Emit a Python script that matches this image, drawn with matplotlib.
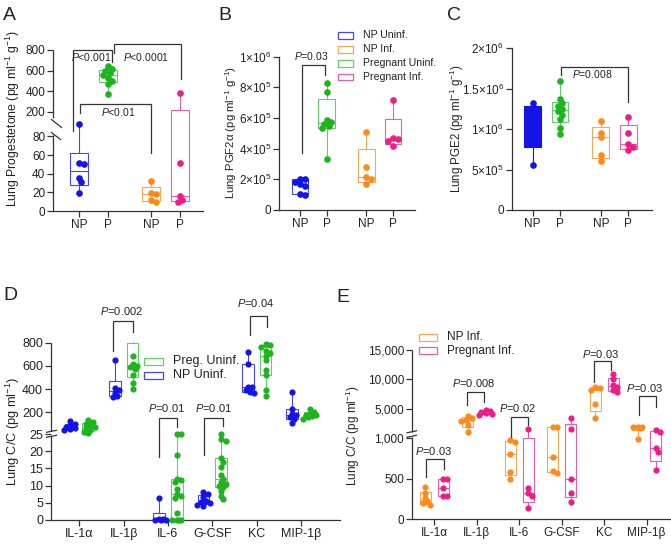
import numpy as np
import matplotlib
matplotlib.use("Agg")
import matplotlib.pyplot as plt
from matplotlib.lines import Line2D
from matplotlib.patches import Rectangle
from matplotlib.transforms import Bbox, TransformedBbox

# ------------------------------------------------------------------ data
groups_abc = ["NP", "P", "NP", "P"]
legend_abc = ["NP Uninf.", "NP Inf.", "Pregnant Uninf.", "Pregnant Inf."]

# Panel A: lung progesterone (pg ml-1 g-1)
a_np_uninf = [93, 51.4, 50.7, 35.7, 31.4, 19]
a_p_uninf = [640, 620, 600, 580, 560, 530, 500, 470, 370]
a_np_inf = [32.5, 19, 18, 11.8, 10]
a_p_inf = [385, 51.8, 16, 11.8, 9.3]
a_yticks = [0, 20, 40, 60, 80, 200, 400, 600, 800]

# Panel B: lung PGF2a
b_np_uninf = [2.05e5, 2.0e5, 1.85e5, 1.7e5, 1.55e5, 1.05e5, 0.95e5]
b_p_uninf = [8.3e5, 7.7e5, 5.85e5, 5.75e5, 5.6e5, 5.45e5, 5.35e5, 3.3e5]
b_np_inf = [5.1e5, 2.82e5, 2.17e5, 2.0e5, 1.7e5]
b_p_inf = [7.2e5, 4.7e5, 4.6e5, 4.5e5, 4.15e5]
b_yticks = [0, 2e5, 4e5, 6e5, 8e5, 1e6]
b_ylabels = ["0", "2×10$^{5}$", "4×10$^{5}$", "6×10$^{5}$", "8×10$^{5}$", "1×10$^{6}$"]

# Panel C: lung PGE2
c_np_uninf = [1.325e6, 1.27e6, 1.25e6, 1.05e6, 0.85e6, 0.56e6]
c_p_uninf = [1.6e6, 1.37e6, 1.32e6, 1.29e6, 1.25e6, 1.22e6, 1.18e6, 1.12e6, 1.01e6, 0.94e6]
c_np_inf = [1.1e6, 0.955e6, 0.897e6, 0.68e6, 0.61e6]
c_p_inf = [1.145e6, 0.955e6, 0.815e6, 0.78e6, 0.74e6]
c_yticks = [0, 5e5, 1e6, 1.5e6, 2e6]
c_ylabels = ["0", "5×10$^{5}$", "1×10$^{6}$", "1.5×10$^{6}$", "2×10$^{6}$"]

# Panels D / E: cytokines
cytokines = ["IL-1α", "IL-1β", "IL-6", "G-CSF", "KC", "MIP-1β"]
d_np_uninf = [
    [130, 110, 95, 85, 75, 65, 55],
    [650, 410, 395, 370, 340, 330],
    [6.5, 0.4, 0.2, 0.1, 0, 0],
    [8, 7.5, 6.6, 5.5, 5.2, 4.8, 4.5, 4],
    [722, 620, 421, 416, 392, 378, 369],
    [372, 230, 190, 177, 160, 148, 115],
]
d_preg_uninf = [
    [140, 125, 110, 95, 85, 75, 60, 45, 30],
    [1400, 1130, 690, 620, 600, 590, 570, 525, 455, 400],
    [25.8, 25, 19, 12, 11.5, 11, 9, 7.5, 7, 6.5, 2, 0, 0, 0, 0],
    [26, 23.5, 23, 18, 17, 15.5, 13, 12, 11, 10.5, 10, 9.5, 8.5, 7, 6],
    [790, 780, 765, 730, 710, 690, 650, 565, 520, 395, 340],
    [230, 205, 190, 180, 175, 170, 160, 150],
]
d_yticks = [0, 5, 10, 15, 20, 25, 200, 400, 600, 800]
d_legend = ["Preg. Uninf.", "NP Uninf."]

e_np_inf = [
    [395, 320, 260, 220, 195, 180],
    [3800, 3500, 3200, 3000, 2300, 1150],
    [975, 950, 800, 585, 500],
    [2000, 1900, 760, 595, 570],
    [8700, 8500, 8300, 5850, 3500],
    [2000, 1950, 1900, 1850, 980],
]
e_preg_inf = [
    [500, 490, 380, 290, 285],
    [4800, 4600, 4450, 4300, 4150, 4000],
    [1610, 380, 320, 290, 135],
    [3400, 1560, 500, 320, 215],
    [11000, 10000, 9000, 8800, 8200, 7900],
    [1450, 1150, 870, 830, 610],
]
e_yticks = [0, 500, 1000, 5000, 10000, 15000]
e_ylabels = ["0", "500", "1,000", "5,000", "10,000", "15,000"]
e_legend = ["NP Inf.", "Pregnant Inf."]

# significance brackets: label, x-left, x-right, y-top, y-left-end, y-right-end, text-x, text-y
a_brackets = [
    ("$P$<0.001", -0.2, 1.13, 800, 86, 685, 0.44, 728),
    ("$P$<0.0001", 1.21, 3.55, 854, 770, 515, 2.34, 733),
    ("$P$<0.01", 0.03, 2.48, 275, 178, 61.8, 1.38, 190),
]
b_brackets = [("$P$=0.03", 0.06, 0.94, 9.45e5, 3.69e5, 8.8e5, 0.41, 1.007e6)]
c_brackets = [("$P$=0.008", 1.03, 3.48, 1.77e6, 1.667e6, 1.33e6, 2.17, 1.68e6)]
d_brackets = [
    ("$P$=0.002", 0.77, 1.22, 990, 728, 895, 0.96, 1075),
    ("$P$=0.01", 1.79, 2.2, 152, 18.4, 84, 1.97, 234),
    ("$P$=0.01", 2.81, 3.24, 152, 18.9, 92, 3.02, 234),
    ("$P$=0.04", 3.84, 4.24, 1033, 866, 938, 3.97, 1145),
]
e_brackets = [
    ("$P$=0.03", -0.2, 0.24, 739, 522, 613, -0.02, 841),
    ("$P$=0.008", 0.76, 1.17, 7931, 5676, 6236, 0.92, 9354),
    ("$P$=0.02", 1.8, 2.21, 3693, 1018, 2286, 1.96, 5219),
    ("$P$=0.03", 3.76, 4.17, 13117, 9625, 11608, 3.92, 14322),
    ("$P$=0.03", 4.82, 5.22, 7202, 3981, 5388, 4.96, 8515),
]

# ------------------------------------------------------------------ style
plt.rcParams.update({
    "font.family": ["Liberation Sans", "DejaVu Sans"],
    "mathtext.fontset": "custom",
    "mathtext.rm": "Liberation Sans",
    "mathtext.it": "Liberation Sans:italic",
    "mathtext.bf": "Liberation Sans:bold",
    "text.color": "#222222",
})
AXC = "#333333"
BLUE, BLUE_E = "#1414e8", "#4545ee"
ORANGE, ORANGE_E = "#ff8a1c", "#f8a650"
GREEN, GREEN_E = "#1fb41f", "#62cf62"
PINK, PINK_E = "#ec1c88", "#ee5ca8"

W, H = 671, 546
fig = plt.figure(figsize=(W / 100, H / 100), dpi=100)


def add_ax(x0, y0, x1, y1):
    return fig.add_axes([x0 / W, 1 - y1 / H, (x1 - x0) / W, (y1 - y0) / H])


def make_scale(bv, bp):
    bv = np.asarray(bv, float)
    bp = np.asarray(bp, float)

    def interp(x, xs, ys):
        x = np.asarray(x, float)
        y = np.interp(x, xs, ys)
        s0 = (ys[1] - ys[0]) / (xs[1] - xs[0])
        s1 = (ys[-1] - ys[-2]) / (xs[-1] - xs[-2])
        y = np.where(x < xs[0], ys[0] + (x - xs[0]) * s0, y)
        y = np.where(x > xs[-1], ys[-1] + (x - xs[-1]) * s1, y)
        return y

    return (lambda v: interp(v, bv, bp)), (lambda p: interp(p, bp, bv))


def fig_line(xs, ys, **kw):
    fig.add_artist(Line2D([x / W for x in xs], [1 - y / H for y in ys],
                          transform=fig.transFigure, color=AXC, lw=0.9, **kw))


def setup(rect, xlim, ylim, scale=None, fs=8.5, broken=False):
    ax = add_ax(*rect)
    ax.patch.set_alpha(0)
    if scale is not None:
        ax.set_yscale("function", functions=scale)
    ax.set_xlim(*xlim)
    ax.set_ylim(*ylim)
    for s in ("top", "right"):
        ax.spines[s].set_visible(False)
    for s in ("left", "bottom"):
        ax.spines[s].set_color(AXC)
        ax.spines[s].set_linewidth(0.9)
    if broken:
        ax.spines["left"].set_visible(False)
    ax.tick_params(axis="both", direction="out", length=4, width=0.9, color=AXC,
                   labelsize=fs, pad=1.5, labelcolor="#222222")
    ax.minorticks_off()
    return ax


def clipbox(ax, top):
    return TransformedBbox(Bbox([[-0.3, -0.3], [1.3, top]]), ax.transAxes)


def swarm(ax, xc, vals, diam, maxoff):
    vals = np.asarray(vals, float)
    T = ax.transData
    yp = T.transform(np.column_stack([np.full(vals.size, xc), vals]))[:, 1]
    ppu = T.transform([[xc + 1, 0]])[0, 0] - T.transform([[xc, 0]])[0, 0]
    offs = np.zeros(vals.size)
    placed = []
    step = diam * 0.35
    cands = [0.0]
    k = 1
    while k * step <= maxoff + 1e-9:
        cands += [k * step, -k * step]
        k += 1
    need = 0.62 * diam
    for i in np.argsort(-vals, kind="stable"):
        best, bestd = None, -1.0
        for c in cands:
            d = min([np.hypot(c - px, yp[i] - py) for px, py in placed] or [1e9])
            if d >= need:
                best = c
                break
            if d > bestd:
                best, bestd = c, d
        placed.append((best, yp[i]))
        offs[i] = best
    return xc + offs / ppu


def group(ax, x, vals, col, edge, width, s, fill=None):
    q1, med, q3 = np.percentile(vals, [25, 50, 75], method="weibull")
    st = [dict(med=med, q1=q1, q3=q3, whislo=min(vals), whishi=max(vals), fliers=[])]
    art = ax.bxp(st, positions=[x], widths=width, showcaps=False, showfliers=False,
                 patch_artist=True, manage_ticks=False, zorder=2,
                 boxprops=dict(facecolor=fill if fill else "none", edgecolor=edge, linewidth=0.8),
                 whiskerprops=dict(color=edge, linewidth=0.8),
                 medianprops=dict(color=edge, linewidth=0.8))
    cb = clipbox(ax, 1.004)
    for k in ("boxes", "whiskers", "medians"):
        for a in art[k]:
            a.set_clip_path(None)
            a.set_clip_box(cb)
    diam = np.sqrt(s) * 100 / 72
    T = ax.transData
    wpx = T.transform([[x + width, 0]])[0, 0] - T.transform([[x, 0]])[0, 0]
    xs = swarm(ax, x, vals, diam, 0.6 * wpx)
    sc = ax.scatter(xs, vals, s=s, color=col, linewidths=0, zorder=3)
    sc.set_clip_path(None)
    sc.set_clip_box(clipbox(ax, 1.035))


def brackets(ax, items, fs):
    for lab, xl, xr, yt, yl, yr, tx, ty in items:
        ax.plot([xl, xl, xr, xr], [yl, yt, yt, yr], color=AXC, lw=0.9, clip_on=False, zorder=4,
                solid_joinstyle="miter")
        ax.text(tx, ty, lab, ha="center", va="center", fontsize=fs, clip_on=False, zorder=5)


def left_spine(ax, segs):
    for a, b in segs:
        ax.plot([0, 0], [a, b], transform=ax.get_yaxis_transform(), color=AXC, lw=0.9,
                clip_on=False, solid_capstyle="butt", zorder=4)


def legend_manual(items, x0, x1, x_text, ys, h, fs):
    for (lab, c), yc in zip(items, ys):
        fig.add_artist(Rectangle((x0 / W, 1 - (yc + h / 2) / H), (x1 - x0) / W, h / H,
                                 transform=fig.transFigure, fill=False, edgecolor=c, lw=0.9))
        fig.text(x_text / W, 1 - yc / H, lab, ha="left", va="center", fontsize=fs)


def panel_letter(x, y, t):
    fig.text(x / W, 1 - y / H, t, fontsize=14, ha="left", va="baseline")


def ylab(x, y, t, fs):
    fig.text(x / W, 1 - y / H, t, rotation=90, ha="center", va="center", fontsize=fs)


pos_abc = [0, 1, 2.5, 3.5]
cols_abc = [(BLUE, BLUE_E), (GREEN, GREEN_E), (ORANGE, ORANGE_E), (PINK, PINK_E)]

# ------------------------------------------------------------------ Panel A
axA = setup((53, 50, 203, 211), (-0.9, 4.3), (0, 800),
            scale=make_scale([0, 100, 200, 800], [0, 93.3, 99.3, 161.1]), broken=True)
for x, v, (c, e) in zip(pos_abc, [a_np_uninf, a_p_uninf, a_np_inf, a_p_inf], cols_abc):
    group(axA, x, v, c, e, 0.61, 23)
axA.set_yticks(a_yticks, [str(t) for t in a_yticks])
axA.set_xticks(pos_abc, groups_abc)
brackets(axA, a_brackets, 7.5)
left_spine(axA, [(0, 82), (100, 800)])
fig_line([51.5, 61.5], [119.5, 127.5])
fig_line([51.5, 60.5], [132.5, 139.5])
panel_letter(3.3, 20, "A")
ylab(13, 118, "Lung Progestetone (pg ml$^{-1}$ g$^{-1}$)", 8.8)

# ------------------------------------------------------------------ Panel B
axB = setup((279, 56.7, 415, 210), (-0.79, 4.33), (0, 1e6))
for x, v, (c, e) in zip(pos_abc, [b_np_uninf, b_p_uninf, b_np_inf, b_p_inf], cols_abc):
    group(axB, x, v, c, e, 0.63, 23)
axB.set_yticks(b_yticks, b_ylabels)
axB.set_xticks(pos_abc, groups_abc)
brackets(axB, b_brackets, 7.5)
panel_letter(218.3, 20, "B")
ylab(231, 132, "Lung PGF2α (pg ml$^{-1}$ g$^{-1}$)", 8.2)
legend_manual(list(zip(legend_abc, [BLUE_E, ORANGE_E, GREEN_E, PINK_E])),
              338, 353, 363, [35.5, 49.5, 63.3, 77], 6.5, 7.6)

# ------------------------------------------------------------------ Panel C
axC = setup((511.7, 48.3, 651.7, 210), (-0.77, 4.36), (0, 2e6))
for i, (x, v, (c, e)) in enumerate(zip(pos_abc, [c_np_uninf, c_p_uninf, c_np_inf, c_p_inf], cols_abc)):
    group(axC, x, v, c, e if i else c, 0.62, 23, fill=c if i == 0 else None)
axC.set_yticks(c_yticks, c_ylabels)
axC.set_xticks(pos_abc, groups_abc)
brackets(axC, c_brackets, 7.5)
panel_letter(446.7, 20, "C")
ylab(456.5, 129, "Lung PGE2 (pg ml$^{-1}$ g$^{-1}$)", 8.3)

# ------------------------------------------------------------------ Panel D
cat_pos = np.arange(len(cytokines))
axD = setup((50.7, 342.8, 340, 520), (-0.645, 5.88), (0, 800),
            scale=make_scale([0, 25, 200, 800], [0, 86, 107.7, 177.3]), fs=9, broken=True)
for i in range(len(cytokines)):
    group(axD, cat_pos[i] - 0.2, d_np_uninf[i], BLUE, BLUE_E, 0.26, 20)
    group(axD, cat_pos[i] + 0.2, d_preg_uninf[i], GREEN, GREEN_E, 0.26, 20)
axD.set_yticks(d_yticks, [str(t) for t in d_yticks])
axD.set_xticks(cat_pos, cytokines)
brackets(axD, d_brackets, 8)
left_spine(axD, [(0, 24.4), (49, 800)])
fig_line([46.5, 56.5], [432.3, 430.3])
fig_line([46.5, 56.5], [437.3, 435.3])
panel_letter(3.3, 300, "D")
ylab(12.5, 431, "Lung C/C (pg ml$^{-1}$)", 9.2)
legend_manual(list(zip(d_legend, [GREEN_E, BLUE_E])), 144, 163.3, 173, [361, 375], 7, 9)

# ------------------------------------------------------------------ Panel E
axE = setup((411.7, 350, 670, 519.3), (-0.53, 5.55), (0, 15000),
            scale=make_scale([0, 1000, 1100, 15000], [0, 81.6, 87.3, 169.3]), broken=True)
for i in range(len(cytokines)):
    group(axE, cat_pos[i] - 0.21, e_np_inf[i], ORANGE, ORANGE_E, 0.26, 20)
    group(axE, cat_pos[i] + 0.21, e_preg_inf[i], PINK, PINK_E, 0.26, 20)
axE.set_yticks(e_yticks, e_ylabels)
axE.set_xticks(cat_pos, cytokines)
brackets(axE, e_brackets, 8)
left_spine(axE, [(0, 1010), (1100, 15000)])
fig_line([407, 416.5], [432.8, 430.8])
fig_line([407, 416.5], [437.3, 435.3])
panel_letter(336.7, 301.7, "E")
ylab(352.5, 435.5, "Lung C/C (pg ml$^{-1}$)", 8.5)
legend_manual(list(zip(e_legend, [ORANGE_E, PINK_E])), 419, 436.7, 447, [337.3, 350.7], 7, 8.5)

fig.savefig("out.png", dpi=100)
